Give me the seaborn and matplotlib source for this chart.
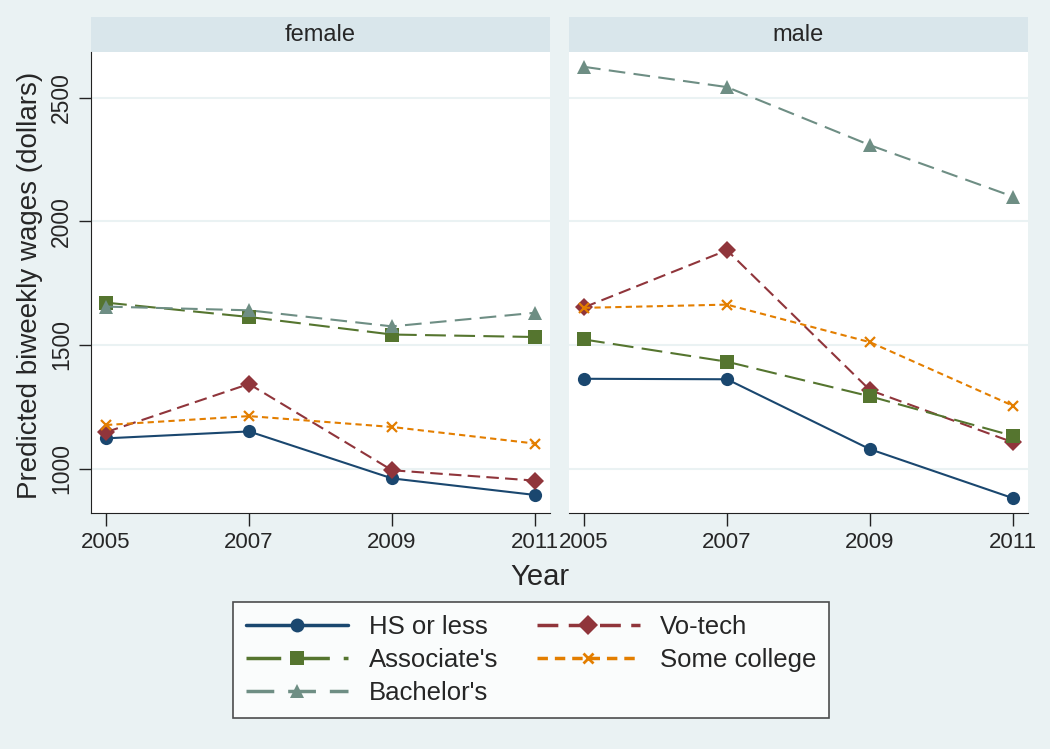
import matplotlib
matplotlib.use("Agg")
import matplotlib.pyplot as plt
from matplotlib.lines import Line2D
from matplotlib.patches import Rectangle
import pandas as pd
import seaborn as sns

years = [2005, 2007, 2009, 2011]
groups = ["HS or less", "Vo-tech", "Associate's", "Some college", "Bachelor's"]

female = {
    "HS or less":   [1122, 1150, 960, 893],
    "Vo-tech":      [1147, 1342, 993, 951],
    "Associate's":  [1671, 1613, 1542, 1532],
    "Some college": [1176, 1212, 1168, 1101],
    "Bachelor's":   [1655, 1640, 1575, 1630],
}
male = {
    "HS or less":   [1363, 1361, 1078, 880],
    "Vo-tech":      [1652, 1883, 1317, 1106],
    "Associate's":  [1522, 1432, 1292, 1132],
    "Some college": [1650, 1663, 1511, 1254],
    "Bachelor's":   [2625, 2543, 2308, 2100],
}

colors = {"HS or less": "#1A476F", "Vo-tech": "#90353B", "Associate's": "#55752F",
          "Some college": "#E37E00", "Bachelor's": "#6E8E84"}
markers = {"HS or less": "o", "Vo-tech": "D", "Associate's": "s",
           "Some college": "x", "Bachelor's": "^"}
dashes = {"HS or less": None, "Vo-tech": (6, 3), "Associate's": (10, 4),
          "Some college": (3, 2), "Bachelor's": (8, 4)}

rows = []
for sex, d in [("female", female), ("male", male)]:
    for g in groups:
        for y, v in zip(years, d[g]):
            rows.append({"sex": sex, "group": g, "year": y, "wage": v})
df = pd.DataFrame(rows)

bg = "#EAF2F3"
strip = "#D9E6EB"

sns.set_style("white")
plt.rcParams["font.family"] = ["Liberation Sans", "DejaVu Sans"]

fig = plt.figure(figsize=(10.5, 7.49), dpi=100, facecolor=bg)
ax_f = fig.add_axes([91 / 1050, 1 - 513 / 749, 459 / 1050, 461 / 749])
ax_m = fig.add_axes([569 / 1050, 1 - 513 / 749, 459 / 1050, 461 / 749])

for ax, sex in [(ax_f, "female"), (ax_m, "male")]:
    for g in groups:
        sub = df[(df.sex == sex) & (df.group == g)]
        is_x = markers[g] == "x"
        sns.lineplot(data=sub, x="year", y="wage", color=colors[g],
                     marker=markers[g], markersize=7 if is_x else 9.5,
                     markeredgewidth=1.6 if is_x else 0,
                     markeredgecolor=colors[g], linewidth=1.5, ax=ax)
        if dashes[g]:
            ax.lines[-1].set_dashes(dashes[g])
    ax.set_xlim(2004.79, 2011.21)
    ax.set_ylim(820, 2685)
    ax.set_xticks(years)
    ax.set_yticks([1000, 1500, 2000, 2500])
    ax.grid(axis="y", color=bg, linewidth=1.5)
    ax.set_axisbelow(True)
    ax.set_facecolor("white")
    for s in ["top", "right"]:
        ax.spines[s].set_visible(False)
    ax.spines["bottom"].set_color("#222222")
    ax.tick_params(axis="x", length=9, width=1, color="#222222", labelsize=16,
                   bottom=True, pad=5)
    ax.set_xlabel("")
    ax.set_ylabel("")
    ax.add_patch(Rectangle((0, 1), 1, 35 / 461, transform=ax.transAxes,
                           facecolor=strip, edgecolor="none", clip_on=False))
    ax.text(0.5, 1 + 17 / 461, sex, transform=ax.transAxes, ha="center",
            va="center", fontsize=17)

ax_f.spines["left"].set_color("#222222")
ax_f.tick_params(axis="y", length=9, width=1, color="#222222", labelsize=16.5,
                 left=True, pad=4)
for lab in ax_f.get_yticklabels():
    lab.set_rotation(90)
    lab.set_va("center")
ax_m.spines["left"].set_visible(False)
ax_m.tick_params(axis="y", left=False, labelleft=False)

fig.text(30 / 1050, 1 - 285 / 749, "Predicted biweekly wages (dollars)",
         rotation=90, ha="center", va="center", fontsize=20)
fig.text(540 / 1050, 1 - 577 / 749, "Year", ha="center", va="center", fontsize=21)

order = ["HS or less", "Associate's", "Bachelor's", "Vo-tech", "Some college"]
handles = []
for g in order:
    h = Line2D([], [], color=colors[g], marker=markers[g],
               markersize=7 if g == "Some college" else 10,
               linewidth=2.5, markeredgewidth=2 if g == "Some college" else 0)
    if dashes[g]:
        h.set_dashes(dashes[g])
    handles.append(h)
leg = fig.legend(handles, order, ncol=2, loc="center",
                 bbox_to_anchor=(531 / 1050, 1 - 660 / 749), fontsize=18.5,
                 frameon=True, fancybox=False, handlelength=4.0,
                 columnspacing=1.5, labelspacing=0.35, borderpad=0.5)
leg.get_frame().set_edgecolor("#222222")
leg.get_frame().set_linewidth(1.2)
leg.get_frame().set_facecolor("white")

fig.savefig("out.png", dpi=100, facecolor=bg)
